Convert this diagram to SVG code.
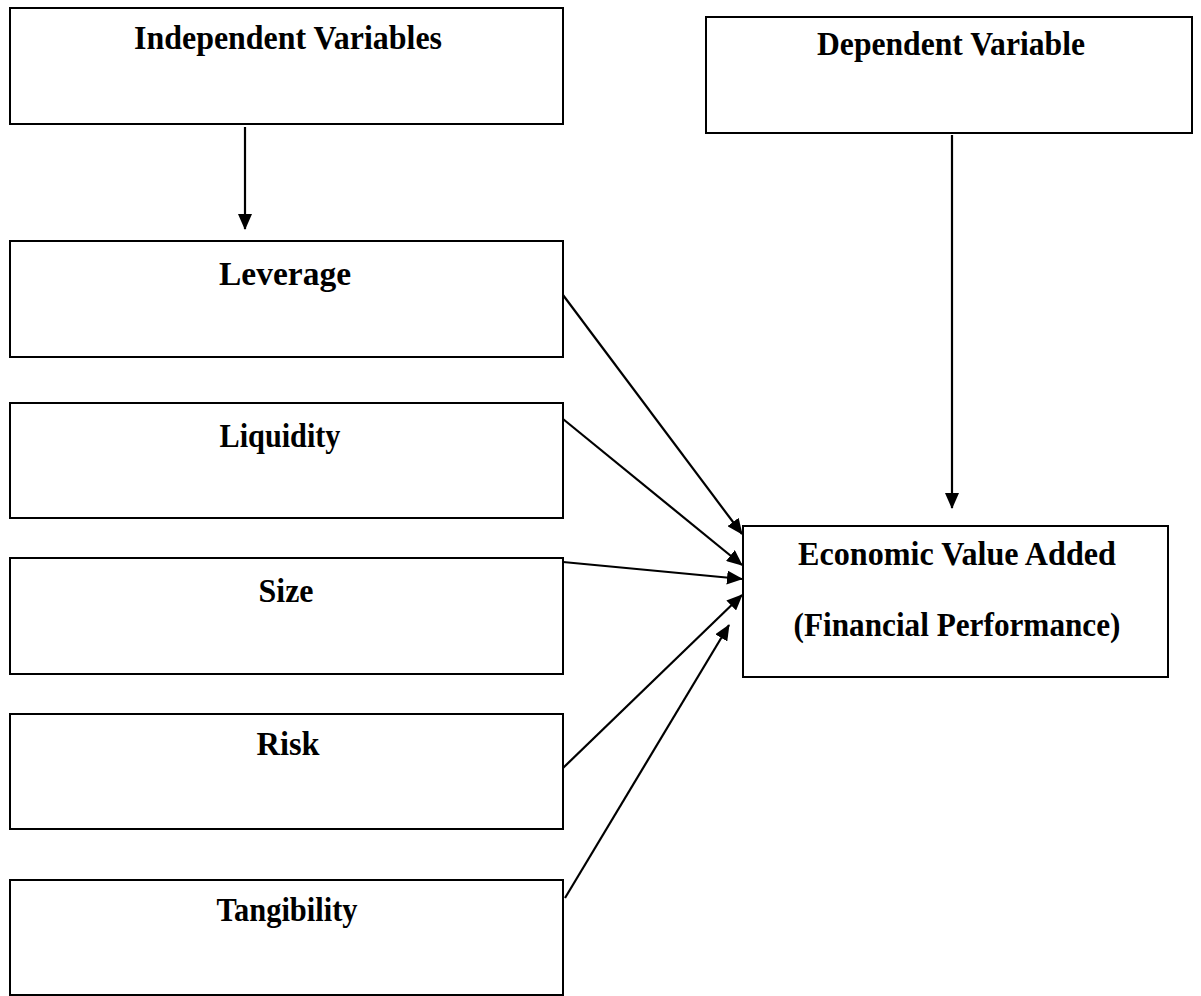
<svg xmlns="http://www.w3.org/2000/svg" width="1201" height="996" viewBox="0 0 1201 996">
<style>
.box{fill:#fff;stroke:#000;stroke-width:2}
.lbl{font-family:"Liberation Serif","Times New Roman",serif;font-weight:bold;font-size:34px;fill:#000;text-anchor:middle}
.con{stroke:#000;stroke-width:2.2;fill:none;marker-end:url(#ah)}
</style>
<defs>
<marker id="ah" markerUnits="userSpaceOnUse" markerWidth="16" markerHeight="14" refX="15" refY="7" orient="auto">
<path d="M0,0 L16,7 L0,14 Z" fill="#000"/>
</marker>
</defs>
<rect width="1201" height="996" fill="#fff"/>
<g id="independent">
<rect class="box" x="10" y="8" width="553" height="116"/>
<text class="lbl" x="288" y="49" textLength="308" lengthAdjust="spacingAndGlyphs">Independent  Variables</text>
</g>
<g id="dependent">
<rect class="box" x="706" y="17" width="486" height="116"/>
<text class="lbl" x="951" y="55" textLength="268" lengthAdjust="spacingAndGlyphs">Dependent Variable</text>
</g>
<g id="leverage">
<rect class="box" x="10" y="241" width="553" height="116"/>
<text class="lbl" x="285" y="285" textLength="132" lengthAdjust="spacingAndGlyphs">Leverage</text>
</g>
<g id="liquidity">
<rect class="box" x="10" y="403" width="553" height="115"/>
<text class="lbl" x="280" y="447" textLength="121" lengthAdjust="spacingAndGlyphs">Liquidity</text>
</g>
<g id="size">
<rect class="box" x="10" y="558" width="553" height="116"/>
<text class="lbl" x="286" y="602" textLength="55" lengthAdjust="spacingAndGlyphs">Size</text>
</g>
<g id="risk">
<rect class="box" x="10" y="714" width="553" height="115"/>
<text class="lbl" x="288" y="755" textLength="63" lengthAdjust="spacingAndGlyphs">Risk</text>
</g>
<g id="tangibility">
<rect class="box" x="10" y="880" width="553" height="115"/>
<text class="lbl" x="287" y="921" textLength="141" lengthAdjust="spacingAndGlyphs">Tangibility</text>
</g>
<g id="eva">
<rect class="box" x="743" y="526" width="425" height="151"/>
<text class="lbl" x="957" y="565" textLength="318" lengthAdjust="spacingAndGlyphs">Economic  Value Added</text>
<text class="lbl" x="957" y="636" textLength="327" lengthAdjust="spacingAndGlyphs">(Financial  Performance)</text>
</g>
<g id="connectors">
<line class="con" x1="245" y1="127" x2="245" y2="229"/>
<line class="con" x1="952" y1="135" x2="952" y2="508"/>
<line class="con" x1="563" y1="295" x2="742" y2="534"/>
<line class="con" x1="563" y1="419" x2="742" y2="565"/>
<line class="con" x1="563" y1="562" x2="742" y2="579"/>
<line class="con" x1="563" y1="768" x2="742" y2="595"/>
<line class="con" x1="565" y1="898" x2="729" y2="625"/>
</g>
</svg>
